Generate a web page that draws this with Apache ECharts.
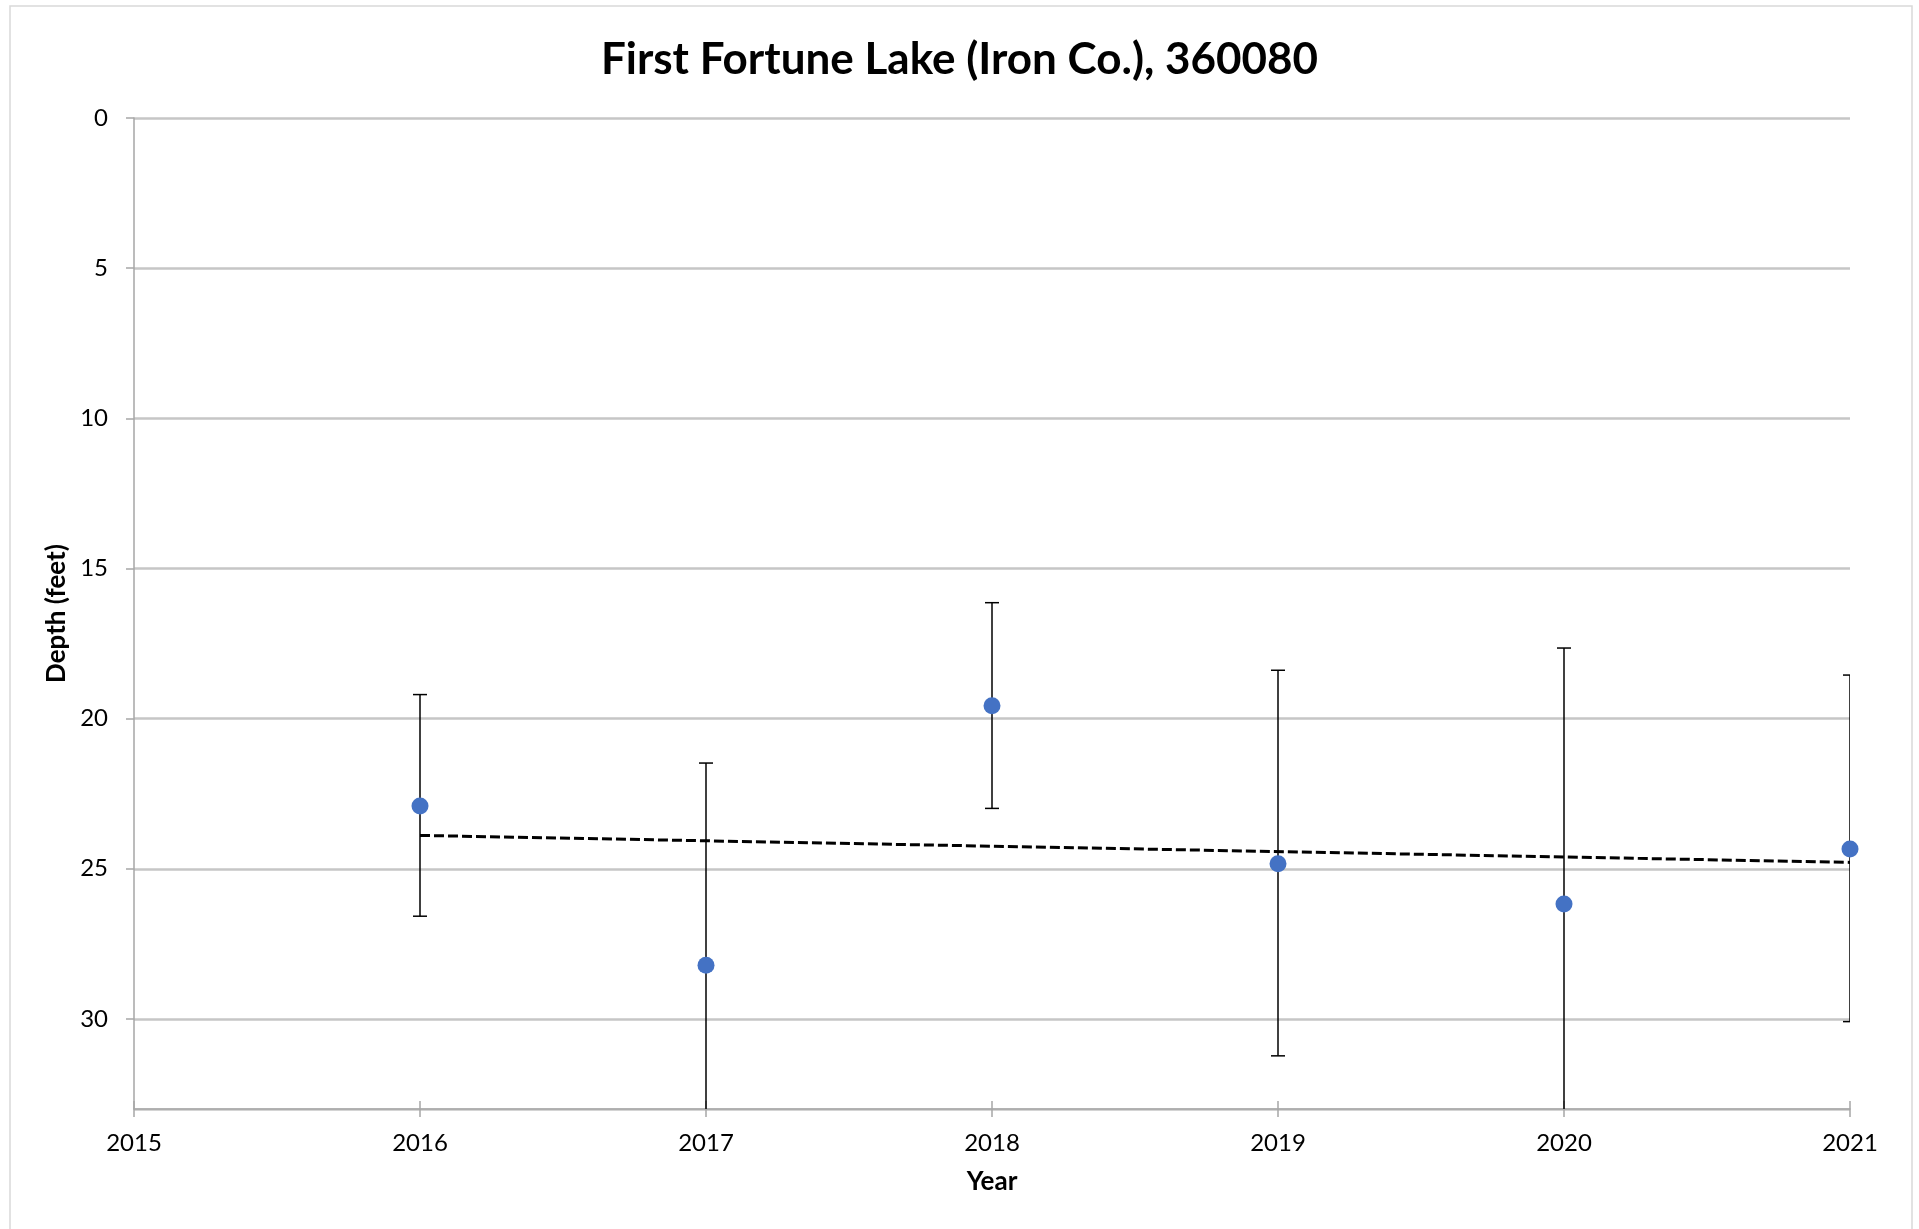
<!DOCTYPE html>
<html>
<head>
<meta charset="utf-8">
<script src="https://cdn.jsdelivr.net/npm/echarts@6/dist/echarts.min.js"></script>
<style>
html,body{margin:0;padding:0;background:#fff;}
#chart{width:1919px;height:1229px;}
</style>
</head>
<body>
<div id="chart"></div>
<script>
var years = [2016, 2017, 2018, 2019, 2020, 2021];
var depth = [22.91, 28.21, 19.57, 24.83, 26.17, 24.34];
var errTop = [19.2, 21.48, 16.14, 18.39, 17.65, 18.55];
var errBottom = [26.58, 34.94, 22.99, 31.23, 34.7, 30.09];
var xTicks = [2015, 2016, 2017, 2018, 2019, 2020, 2021];
var yTicks = [0, 5, 10, 15, 20, 25, 30];

// linear trendline (least squares) from the data
var n = years.length, mx = 0, my = 0;
for (var i = 0; i < n; i++) { mx += years[i]; my += depth[i]; }
mx /= n; my /= n;
var sxy = 0, sxx = 0;
for (var i = 0; i < n; i++) { sxy += (years[i]-mx)*(depth[i]-my); sxx += (years[i]-mx)*(years[i]-mx); }
var slope = sxy / sxx, icpt = my - slope*mx;
var trend = [[years[0], icpt + slope*years[0]], [years[n-1], icpt + slope*years[n-1]]];

var errData = years.map(function(y, i){ return [y, errTop[i], errBottom[i]]; });

var FONT = 'Lato';
var AX = '#a6a6a6';
var chart = echarts.init(document.getElementById('chart'));
chart.setOption({
  backgroundColor: '#fff',
  animation: false,
  title: {
    text: 'First Fortune Lake (Iron Co.), 360080',
    left: 'center', top: 33,
    textStyle: {fontFamily: FONT, fontSize: 44, fontWeight: 'bold', color: '#000'}
  },
  graphic: [{
    type: 'rect', shape: {x: 10, y: 6, width: 1902, height: 1230},
    style: {fill: 'none', stroke: '#d9d9d9', lineWidth: 1.5}, silent: true
  }],
  grid: {left: 134, right: 69, top: 118, bottom: 120},
  xAxis: [{
    type: 'value', min: 2015, max: 2021, interval: 1,
    name: 'Year', nameLocation: 'middle', nameGap: 60,
    nameTextStyle: {fontFamily: FONT, fontSize: 26, fontWeight: 'bold', color: '#000'},
    axisLine: {onZero: false, lineStyle: {color: AX, width: 1.5}},
    axisTick: {show: true, length: 8, lineStyle: {color: AX, width: 1.5}},
    axisLabel: {fontFamily: FONT, fontSize: 24, color: '#000', margin: 22,
      formatter: function(v){ return String(v); }},
    splitLine: {show: false}
  }, {
    type: 'value', min: 2015, max: 2021, interval: 1, position: 'bottom',
    axisLine: {show: false, onZero: false},
    axisTick: {show: true, inside: true, length: 8, lineStyle: {color: AX, width: 1.5}},
    axisLabel: {show: false}, splitLine: {show: false}
  }],
  yAxis: [{
    type: 'value', inverse: true, min: 0, max: 33, interval: 5,
    name: 'Depth (feet)', nameLocation: 'middle', nameGap: 62, nameRotate: 90,
    nameTextStyle: {fontFamily: FONT, fontSize: 26, fontWeight: 'bold', color: '#000'},
    axisLine: {show: true, lineStyle: {color: AX, width: 1.5}},
    axisTick: {show: true, length: 8, lineStyle: {color: AX, width: 1.5}},
    axisLabel: {fontFamily: FONT, fontSize: 24, color: '#000', margin: 26, showMaxLabel: false},
    splitLine: {show: true, lineStyle: {color: '#c6c6c6', width: 2.5}}
  }, {
    type: 'value', inverse: true, min: 0, max: 33, interval: 5, position: 'left',
    axisLine: {show: false},
    axisTick: {show: false},
    axisLabel: {show: false}, splitLine: {show: false}
  }],
  series: [
    {
      type: 'custom', clip: true, z: 3,
      data: errData,
      renderItem: function(params, api){
        var x = api.value(0);
        var p1 = api.coord([x, api.value(1)]);
        var p2 = api.coord([x, api.value(2)]);
        var cs = params.coordSys;
        var bottom = cs.y + cs.height;
        var yb = Math.min(p2[1], bottom);
        var hw = 7;
        var children = [
          {type: 'line', shape: {x1: p1[0], y1: p1[1], x2: p1[0], y2: yb},
           style: {stroke: '#000', lineWidth: 1.5}}
        ];
        children.push({type: 'line', shape: {x1: p1[0]-hw, y1: p1[1], x2: Math.min(p1[0]+hw, cs.x+cs.width), y2: p1[1]},
           style: {stroke: '#000', lineWidth: 1.5}});
        if (p2[1] <= bottom) {
          children.push({type: 'line', shape: {x1: p2[0]-hw, y1: p2[1], x2: Math.min(p2[0]+hw, cs.x+cs.width), y2: p2[1]},
           style: {stroke: '#000', lineWidth: 1.5}});
        }
        return {type: 'group', children: children};
      }
    },
    {
      type: 'line', data: trend, symbol: 'none', z: 4,
      lineStyle: {color: '#000', width: 3, type: [10, 4]}
    },
    {
      type: 'scatter', z: 5, symbol: 'circle', symbolSize: 17,
      itemStyle: {color: '#4472C4', opacity: 1},
      data: years.map(function(y, i){ return [y, depth[i]]; })
    }
  ]
});
</script>
</body>
</html>
